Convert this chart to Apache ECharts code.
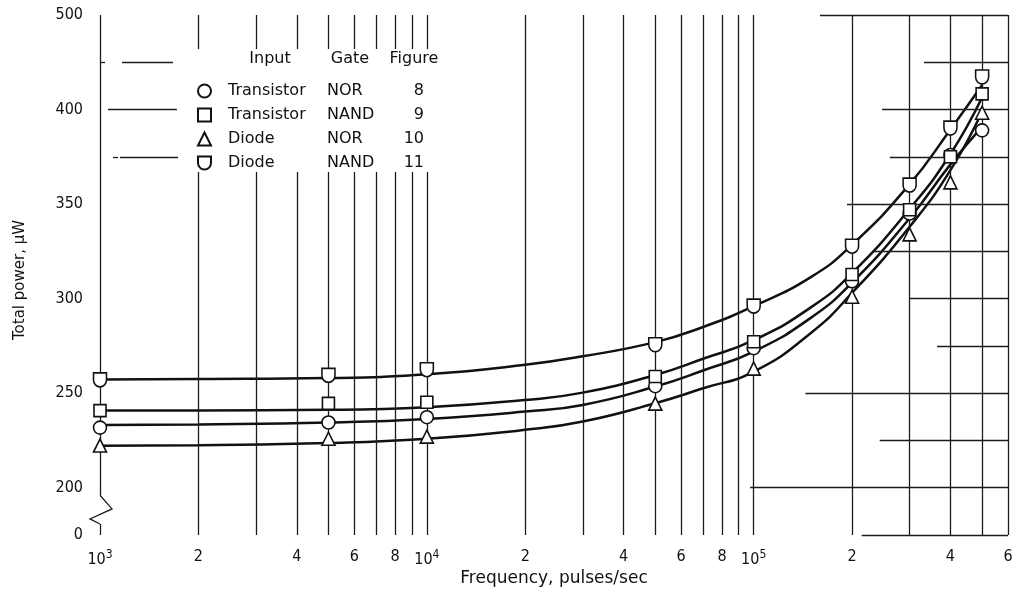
<!DOCTYPE html>
<html><head><meta charset="utf-8">
<script src="https://cdn.jsdelivr.net/npm/echarts@6/dist/echarts.min.js"></script>
<style>html,body{margin:0;padding:0;background:#fff}#c{width:1019px;height:595px}</style>
</head><body><div id="c"></div>
<script>
const FONT = "'DejaVu Sans Condensed','Liberation Sans Narrow','DejaVu Sans',sans-serif";
const WFONT = "'DejaVu Sans','Liberation Sans',sans-serif";
const INK = '#111';

// ---- data ----
const xPoints = [1e3, 5e3, 1e4, 5e4, 1e5, 2e5, 3e5, 4e5, 5e5];
const transistorNOR  = [231.8, 234.5, 237.3, 253.7, 273.8, 309.2, 345.0, 376.0, 389.0];
const transistorNAND = [240.8, 244.6, 245.2, 258.8, 277.2, 312.8, 347.0, 375.0, 408.3];
const diodeNOR       = [222.3, 225.9, 227.0, 244.5, 263.0, 301.0, 334.0, 361.5, 398.3];
const diodeNAND      = [257.0, 259.4, 262.4, 275.6, 296.0, 327.7, 360.0, 390.2, 417.2];

// faired curves
const curveX = [1e3, 2e3, 5e3, 1e4, 2e4, 3e4, 5e4, 7e4, 1e5, 1.5e5, 2e5, 3e5, 4e5, 5e5];
const curveTransistorNOR  = [233.2, 233.5, 234.5, 236.4, 240.3, 243.8, 253.5, 262.0, 272.0, 290.0, 308.5, 342.5, 371.0, 391.0];
const curveTransistorNAND = [240.8, 240.9, 241.2, 242.6, 246.4, 250.3, 259.6, 268.2, 278.0, 295.5, 313.5, 347.5, 376.5, 406.5];
const curveDiodeNOR       = [222.2, 222.5, 223.6, 225.9, 230.6, 235.0, 244.7, 252.6, 261.4, 282.0, 303.0, 338.0, 368.0, 399.0];
const curveDiodeNAND      = [257.3, 257.5, 258.0, 260.0, 265.0, 269.5, 277.0, 285.0, 296.0, 311.5, 328.5, 360.5, 389.5, 413.0];

const seriesNames   = ['Transistor NOR', 'Transistor NAND', 'Diode NOR', 'Diode NAND'];
const legendInput   = ['Transistor', 'Transistor', 'Diode', 'Diode'];
const legendGate    = ['NOR', 'NAND', 'NOR', 'NAND'];
const legendFigure  = ['8', '9', '10', '11'];
const legendHeader  = ['Input', 'Gate', 'Figure'];

// ---- axes / ticks ----
const xMin = 1e3, xMax = 6e5;
const yMin = 175, yMax = 450, yStep = 25;
const xTickValues = [1e3, 2e3, 4e3, 6e3, 8e3, 1e4, 2e4, 4e4, 6e4, 8e4, 1e5, 2e5, 4e5, 6e5];
const xTickLabels = ['10^3', '2', '4', '6', '8', '10^4', '2', '4', '6', '8', '10^5', '2', '4', '6'];
const yTickValues = [175, 200, 250, 300, 350, 400, 450];
const yTickLabels = ['0', '200', '250', '300', '350', '400', '500'];

// ---- grid decoration (log-paper lines) ----
const vGridValues = [2e3,3e3,4e3,5e3,6e3,7e3,8e3,9e3,1e4,2e4,3e4,4e4,5e4,6e4,7e4,8e4,9e4,1e5,2e5,3e5,4e5,5e5,6e5];
const legendBreak = {maxX: 1e4, from: 367, to: 432};
const axisBreak = {low: 180.8, high: 196, zig: [188.8, 183.5]};
const hGridSegments = [
  [450, 1.595e5, 6e5], [425, 3.32e5, 6e5], [400, 2.47e5, 6e5], [375, 2.61e5, 6e5],
  [350, 1.93e5, 6e5], [325, 2.32e5, 6e5], [300, 3.0e5, 6e5], [275, 3.64e5, 6e5],
  [250, 1.44e5, 6e5], [225, 2.43e5, 6e5], [200, 9.75e4, 6e5], [175, 2.14e5, 6e5],
  [425, 1.0e3, 1.036e3], [425, 1.168e3, 1.672e3], [400, 1.058e3, 1.719e3],
  [375, 1.096e3, 1.135e3], [375, 1.151e3, 1.733e3]
];

function zip(xs, ys) { return xs.map((x, i) => [x, ys[i]]); }
function tickText(v) {
  const i = xTickValues.indexOf(v);
  if (i < 0) return null;
  const t = xTickLabels[i];
  if (t.indexOf('^') >= 0) { const p = t.split('^'); return '{n|' + p[0] + '}{s|' + p[1] + '}'; }
  return '{n|' + t + '}';
}
const tickLabelRich = {
  n: {fontFamily: FONT, fontSize: 16, color: INK},
  s: {fontFamily: FONT, fontSize: 12, color: INK, padding: [0, 0, 9, 0]}
};
function seg(x1, y1, x2, y2, withLabel) {
  const a = {coord: [x1, y1]};
  const txt = withLabel ? tickText(x1) : null;
  if (txt) a.label = {show: true, position: 'start', distance: 14, formatter: txt, rich: tickLabelRich};
  return [a, {coord: [x2, y2]}];
}
const gridLines = [];
gridLines.push(seg(xMin, yMin, xMin, axisBreak.low, true));
gridLines.push(seg(xMin, axisBreak.high, xMin, yMax, false));
vGridValues.forEach(v => {
  if (v <= legendBreak.maxX) {
    gridLines.push(seg(v, yMin, v, legendBreak.from, true));
    gridLines.push(seg(v, legendBreak.to, v, yMax, false));
  } else {
    gridLines.push(seg(v, yMin, v, yMax, true));
  }
});
hGridSegments.forEach(h => gridLines.push(seg(h[1], h[0], h[2], h[0], false)));

const dShape = 'path://M0,0 L12,0 L12,6 A6,6 0 0 1 0,6 Z';
const symbols = ['circle', 'rect', 'triangle', dShape];
const symbolSizes = [13, 12, 13, [13, 14]];
const pointData = [transistorNOR, transistorNAND, diodeNOR, diodeNAND];
const curveData = [curveTransistorNOR, curveTransistorNAND, curveDiodeNOR, curveDiodeNAND];

const series = [];
series.push({
  name: 'grid', type: 'line', data: [], silent: true, z: 1,
  markLine: {
    silent: true, symbol: ['none', 'none'], animation: false,
    lineStyle: {color: '#1c1c1c', width: 1.3, type: 'solid'},
    label: {show: false}, emphasis: {disabled: true},
    data: gridLines
  }
});
curveData.forEach((c, i) => series.push({
  name: seriesNames[i] + ' curve', type: 'line', data: zip(curveX, c),
  smooth: 0.5, showSymbol: false, silent: true, z: 3,
  lineStyle: {color: INK, width: 2.5}
}));
pointData.forEach((d, i) => series.push({
  name: seriesNames[i], type: 'scatter', data: zip(xPoints, d),
  symbol: symbols[i], symbolSize: symbolSizes[i], z: 5, silent: true,
  itemStyle: {color: '#fff', borderColor: INK, borderWidth: 1.6, opacity: 1}
}));

const chart = echarts.init(document.getElementById('c'), null, {renderer: 'canvas'});
const option = {
  animation: false,
  backgroundColor: '#fff',
  textStyle: {fontFamily: FONT, color: INK},
  grid: {left: 100, right: 11, top: 15, bottom: 60, containLabel: false},
  xAxis: {
    type: 'log', logBase: 10, min: xMin, max: xMax,
    axisLine: {show: false}, axisTick: {show: false}, axisLabel: {show: false}, splitLine: {show: false},
    name: 'Frequency, pulses/sec', nameLocation: 'middle', nameGap: 35,
    nameTextStyle: {fontFamily: WFONT, fontSize: 17, color: INK}
  },
  yAxis: {
    type: 'value', min: yMin, max: yMax, interval: yStep,
    axisLine: {show: false}, axisTick: {show: false}, splitLine: {show: false},
    axisLabel: {
      margin: 17, fontFamily: FONT, fontSize: 16, color: INK, showMinLabel: true, showMaxLabel: true,
      formatter: v => { const i = yTickValues.indexOf(v); return i >= 0 ? yTickLabels[i] : ''; }
    },
    name: 'Total power, μW', nameLocation: 'middle', nameGap: 72, nameRotate: 90,
    nameTextStyle: {fontFamily: WFONT, fontSize: 15, color: INK, padding: [0, 10, 0, 0]}
  },
  legend: {
    data: seriesNames, orient: 'vertical', left: 192, top: 78,
    itemWidth: 13, itemHeight: 13, itemGap: 8, selectedMode: false,
    formatter: name => {
      const i = seriesNames.indexOf(name);
      return '{s| }{a|' + legendInput[i] + '}{b|' + legendGate[i] + '}{c|' + legendFigure[i] + '}';
    },
    textStyle: {
      fontFamily: WFONT, fontSize: 16, color: INK,
      rich: {
        s: {width: 12, fontSize: 16, lineHeight: 14},
        a: {width: 99, fontFamily: WFONT, fontSize: 16, color: INK, lineHeight: 14},
        b: {width: 60, fontFamily: WFONT, fontSize: 16, color: INK, lineHeight: 14},
        c: {width: 37, align: 'right', fontFamily: WFONT, fontSize: 16, color: INK, lineHeight: 14}
      }
    }
  },
  series: series
};
chart.setOption(option);

const hdrX = [270, 350, 414];
const g = legendHeader.map((t, i) => ({
  type: 'text', x: hdrX[i], y: 59, silent: true,
  style: {text: t, fontFamily: WFONT, fontSize: 16, fill: INK, align: 'center', verticalAlign: 'middle'}
}));
const px = v => chart.convertToPixel({xAxisIndex: 0, yAxisIndex: 0}, [xMin, v]);
const pHigh = px(axisBreak.high), pZ1 = px(axisBreak.zig[0]), pZ2 = px(axisBreak.zig[1]), pLow = px(axisBreak.low);
g.push({
  type: 'polyline', silent: true, z: 10,
  shape: {points: [[pHigh[0], pHigh[1]], [pZ1[0] + 12, pZ1[1]], [pZ2[0] - 10, pZ2[1]], [pLow[0], pLow[1]]]},
  style: {stroke: '#1c1c1c', lineWidth: 1.3, fill: null}
});
chart.setOption({graphic: g});
</script>
</body></html>
